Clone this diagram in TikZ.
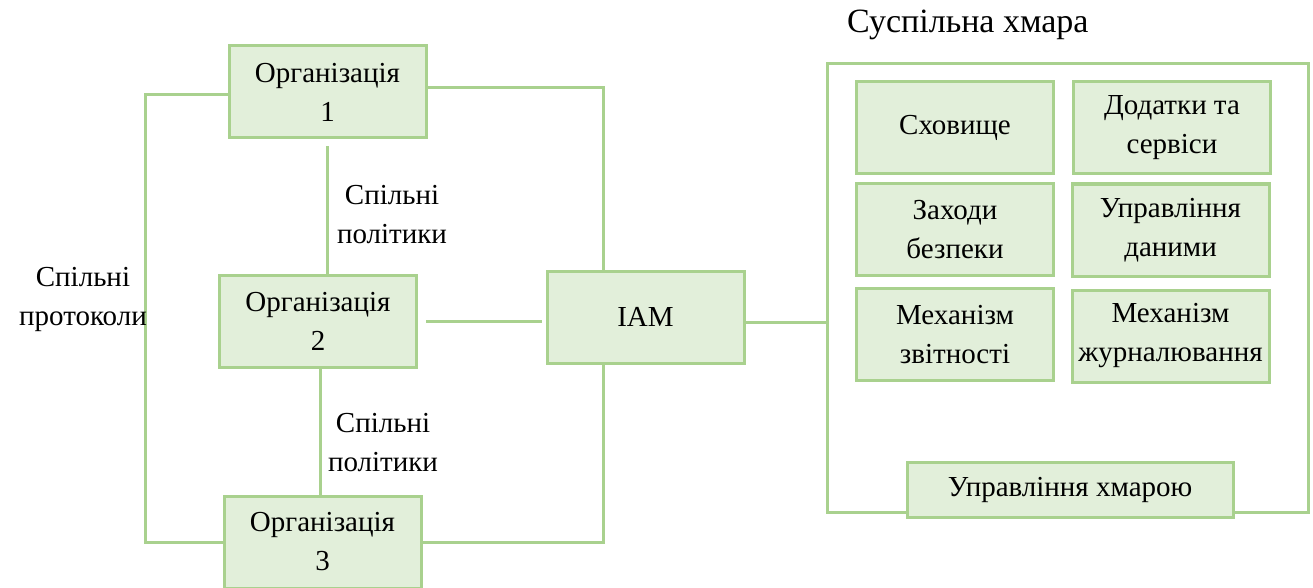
\documentclass[tikz,border=0pt]{standalone}
\usepackage{fontspec}
\setmainfont{Liberation Serif}
\definecolor{boxfill}{HTML}{E2EFDA}
\definecolor{boxline}{HTML}{A9D18E}
\begin{document}
\begin{tikzpicture}[x=1pt,y=-1pt,
  txt/.style={font=\fontsize{29}{39}\selectfont, align=center, inner sep=0pt},
  gbox/.style={txt, draw=boxline, fill=boxfill, line width=3pt, minimum width=197pt, minimum height=92pt},
  conn/.style={draw=boxline, line width=3pt}]
\useasboundingbox (0,0) rectangle (1313,588);
% organisations
\node[gbox] (o1) at (327.5,92) {Організація\\1};
\node[gbox] (o2) at (318,321) {Організація\\2};
\node[gbox] (o3) at (322.5,542) {Організація\\3};
\node[gbox] (iam) at (645.5,317) {IAM};
% cloud frame
\node[draw=boxline, line width=3pt, minimum width=481pt, minimum height=448pt, inner sep=0pt] (cloud) at (1067.5,288) {};
\node[txt, anchor=west, font=\fontsize{34}{40}\selectfont] (title) at (847,25) {Суспільна хмара};
\node[gbox] (s1) at (955,127.5) {Сховище};
\node[gbox] (s2) at (1172,127.5) {Додатки та\\сервіси};
\node[gbox] (s3) at (955,229.5) {Заходи\\безпеки};
\node[gbox] (s4) at (1170.5,230) {Управління\\даними};
\node[gbox] (s5) at (955,334.5) {Механізм\\звітності};
\node[gbox] (s6) at (1170.5,336) {Механізм\\журналювання};
\node[gbox, minimum width=326pt, minimum height=55pt] (cm) at (1070,489.5) {Управління хмарою};
% connectors
\draw[conn] ([yshift=-3pt]o1.west) -- ++(-82,0) coordinate (lc) |- (o3.west);
\draw[conn, shorten <=7pt] (o1.south) -- (o1.south |- o2.north);
\draw[conn] ([xshift=2pt]o2.south) -- ([xshift=2pt]o2.south |- o3.north);
\draw[conn] ([yshift=4pt]o1.east) -| ([xshift=-42.5pt]iam.north);
\draw[conn, shorten <=8pt, shorten >=4pt] (o2.east) -- (o2.east -| iam.west);
\draw[conn] ([xshift=-42.5pt]iam.south) |- (o3.east);
\draw[conn] ([yshift=-5pt]iam.east) -- ([yshift=-5pt]cloud.west |- iam.east);
% labels
\node[txt, anchor=east] (lp) at (147,299) {Спільні\\протоколи};
\node[txt] (l1) at (392,215) {Спільні\\політики};
\node[txt] (l2) at (383,443) {Спільні\\політики};
\end{tikzpicture}
\end{document}
